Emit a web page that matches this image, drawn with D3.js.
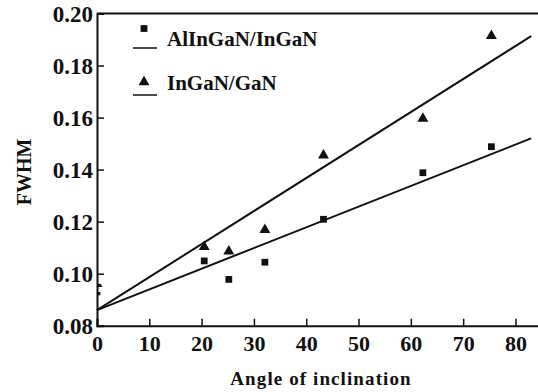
<!DOCTYPE html>
<html><head><meta charset="utf-8">
<script src="https://cdn.jsdelivr.net/npm/d3@7"></script>
<style>
html,body{margin:0;padding:0;background:#fff;}
svg{display:block;}
text{font-family:"Liberation Serif","Times New Roman",serif;fill:#111;}
</style></head>
<body>
<script>
// ---- data ----
const angles = [0, 20.5, 25.2, 32.1, 43.3, 62.3, 75.4];
const alInGaN = [0.093, 0.1049, 0.0978, 0.1044, 0.1209, 0.1388, 0.1488];
const inGaN = [0.0965, 0.1107, 0.109, 0.1172, 0.1459, 0.160, 0.1918];
const fitAngles = [0, 83];
const fitAlInGaN = [0.086, 0.152];
const fitInGaN = [0.086, 0.1913];
const xTicks = [0, 10, 20, 30, 40, 50, 60, 70, 80];
const yTicks = [0.08, 0.10, 0.12, 0.14, 0.16, 0.18, 0.20];
const seriesNames = ["AlInGaN/InGaN", "InGaN/GaN"];

const W = 538, H = 392;
const svg = d3.select("body").append("svg").attr("width", W).attr("height", H);

const x = d3.scaleLinear().domain([0, 84.5]).range([97, 539]);
const y = d3.scaleLinear().domain([0.08, 0.20]).range([325.7, 13.5]);

const ink = "#111";

svg.append("defs").append("clipPath").attr("id", "leftclip")
  .append("rect").attr("x", 0).attr("y", 0).attr("width", x(0)).attr("height", H);

// top frame line
svg.append("line").attr("x1", x(0)).attr("x2", W).attr("y1", y(0.20)).attr("y2", y(0.20))
  .attr("stroke", ink).attr("stroke-width", 2);

// axes with inward ticks
const xAxis = d3.axisBottom(x).tickValues(xTicks).tickSize(-7).tickPadding(10).tickFormat(d3.format("d"));
const gx = svg.append("g").attr("transform", `translate(0,${y(0.08)})`).call(xAxis);
gx.select(".domain").attr("stroke", ink).attr("stroke-width", 2);
gx.selectAll(".tick line").attr("stroke", ink).attr("stroke-width", 1.5);
gx.selectAll(".tick text").attr("font-size", 22).attr("font-weight", "bold")
  .attr("font-family", "Liberation Serif").attr("fill", ink).attr("dy", "0.68em");

const yAxis = d3.axisLeft(y).tickValues(yTicks).tickSize(-7).tickPadding(4).tickFormat(d3.format(".2f"));
const gy = svg.append("g").attr("transform", `translate(${x(0)},0)`).call(yAxis);
gy.select(".domain").attr("stroke", ink).attr("stroke-width", 2);
gy.selectAll(".tick line").attr("stroke", ink).attr("stroke-width", 1.5);
gy.selectAll(".tick text").attr("font-size", 23).attr("font-weight", "bold")
  .attr("font-family", "Liberation Serif").attr("fill", ink).attr("dy", "0.36em");

// fit lines
const line = d3.line().x((d, i) => x(fitAngles[i])).y(d => y(d));
svg.append("path").datum(fitAlInGaN).attr("d", line).attr("fill", "none").attr("stroke", ink).attr("stroke-width", 2);
svg.append("path").datum(fitInGaN).attr("d", line).attr("fill", "none").attr("stroke", ink).attr("stroke-width", 2);

// markers
const sq = d3.symbol().type(d3.symbolSquare).size(46);
const tri = d3.symbol().type(d3.symbolTriangle).size(52);

angles.forEach((a, i) => {
  const clip = a === 0 ? "url(#leftclip)" : null;
  svg.append("path").attr("d", sq).attr("fill", ink)
    .attr("transform", `translate(${x(a)},${y(alInGaN[i])})`).attr("clip-path", clip);
  svg.append("path").attr("d", tri).attr("fill", ink)
    .attr("transform", `translate(${x(a)},${y(inGaN[i]) + 1})`).attr("clip-path", clip);
});

// legend
const legend = [
  {name: seriesNames[0], sym: sq, my: 28.5, ly: 48, ty: 46},
  {name: seriesNames[1], sym: tri, my: 82, ly: 95, ty: 90}
];
legend.forEach(l => {
  svg.append("path").attr("d", l.sym).attr("fill", ink).attr("transform", `translate(144,${l.my})`);
  svg.append("line").attr("x1", 133).attr("x2", 157).attr("y1", l.ly).attr("y2", l.ly)
    .attr("stroke", ink).attr("stroke-width", 1.5);
  svg.append("text").attr("x", 167).attr("y", l.ty).attr("font-size", 21).attr("font-weight", "bold")
    .text(l.name);
});

// axis titles
svg.append("text").attr("x", 321).attr("y", 385).attr("text-anchor", "middle")
  .attr("font-size", 19).attr("font-weight", "bold").attr("letter-spacing", "1.1px")
  .text("Angle of inclination");
svg.append("text").attr("transform", "translate(31,172) rotate(-90)").attr("text-anchor", "middle")
  .attr("font-size", 20).attr("font-weight", "bold").text("FWHM");
</script>
</body></html>
